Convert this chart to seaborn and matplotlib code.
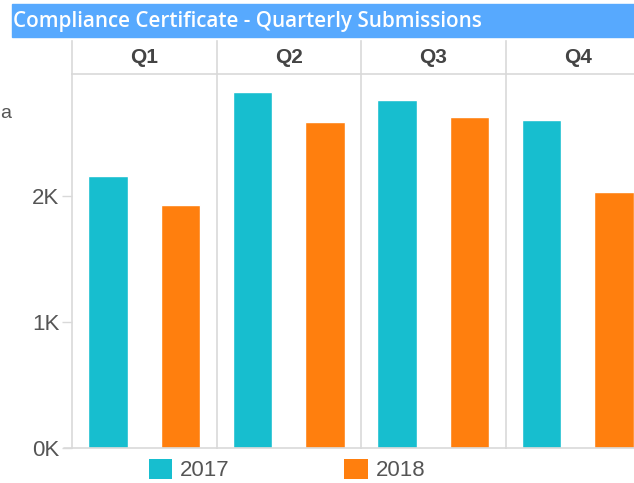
import pandas as pd
import matplotlib.pyplot as plt
import seaborn as sns
from matplotlib.patches import Rectangle, Patch

# Data
quarters = ["Q1", "Q2", "Q3", "Q4"]
years = ["2017", "2018"]
values_2017 = [2160, 2825, 2762, 2603]
values_2018 = [1929, 2587, 2627, 2032]

rows = []
for q, a, b in zip(quarters, values_2017, values_2018):
    rows.append({"quarter": q, "year": "2017", "value": a})
    rows.append({"quarter": q, "year": "2018", "value": b})
df = pd.DataFrame(rows)

colors = {"2017": "#17becf", "2018": "#ff7f0e"}
grid_col = "#d9d9d9"
text_col = "#555555"

sns.set_theme(style="white")
plt.rcParams["font.family"] = ["Liberation Sans", "DejaVu Sans"]

W, H = 634, 483
fig = plt.figure(figsize=(W / 100, H / 100), dpi=100)

def fx(px):
    return px / W

def fy(py):
    return 1 - py / H

# title bar
fig.patches.append(Rectangle((fx(12), fy(37)), fx(634) - fx(12), fy(4) - fy(37),
                             transform=fig.transFigure, color="#57a9fe", zorder=0))
fig.text(fx(13), fy(21), "Compliance Certificate - Quarterly Submissions",
         color="white", fontsize=14.9, family="Open Sans", fontweight="semibold",
         va="center", ha="left")

col_w = 144.5
left0 = 72
base_y, top_y, head_y = 448, 74, 41
ymax = (base_y - top_y) / 126 * 1000

for i, q in enumerate(quarters):
    x0 = left0 + col_w * i
    ax = fig.add_axes([fx(x0), fy(base_y), col_w / W, (base_y - top_y) / H])
    sub = df[df["quarter"] == q]
    sns.barplot(data=sub, x="year", y="value", hue="year", palette=colors,
                order=years, hue_order=years, width=0.55, legend=False,
                saturation=1, ax=ax)
    ax.set_xlim(-0.5, 1.5)
    ax.set_ylim(0, ymax)
    ax.set_xlabel("")
    ax.set_ylabel("")
    ax.set_xticks([])
    for s in ["top", "right"]:
        ax.spines[s].set_visible(False)
    ax.spines["left"].set_color(grid_col)
    ax.spines["bottom"].set_color(grid_col)
    ax.spines["left"].set_linewidth(1.2)
    ax.spines["bottom"].set_linewidth(1.2)
    if i == 0:
        ax.set_yticks([0, 1000, 2000])
        ax.set_yticklabels(["0K", "1K", "2K"])
        ax.tick_params(axis="y", length=7, width=1, color=grid_col,
                       labelsize=16, labelcolor=text_col, pad=2, left=True)
    else:
        ax.set_yticks([])

    # header cell
    hx = fig.add_axes([fx(x0), fy(top_y), col_w / W, (top_y - head_y) / H])
    hx.set_xticks([])
    hx.set_yticks([])
    for s in ["top", "right"]:
        hx.spines[s].set_visible(False)
    hx.spines["left"].set_color(grid_col)
    hx.spines["bottom"].set_color(grid_col)
    hx.spines["left"].set_linewidth(1.2)
    hx.spines["bottom"].set_linewidth(1.2)
    hx.patch.set_alpha(0)
    hx.text(0.5, 0.5, q, ha="center", va="center", fontsize=15,
            fontweight="bold", color="#444444", transform=hx.transAxes)

# baseline stub left of the axis
fig.add_artist(plt.Line2D([fx(64), fx(72)], [fy(base_y), fy(base_y)],
                          color=grid_col, lw=1.2, transform=fig.transFigure))

# label fragment at left edge
fig.text(fx(0), fy(113), "a", color=text_col, fontsize=14, ha="left", va="center")

handles = [Patch(facecolor=colors[y], edgecolor="none", label=y) for y in years]
fig.legend(handles=handles, loc="center left", bbox_to_anchor=(fx(149), fy(470)),
           ncol=2, frameon=False, fontsize=16, handlelength=1.05, handleheight=1.05,
           handletextpad=0.36, columnspacing=5.15, labelcolor=text_col,
           borderaxespad=0, borderpad=0)

fig.savefig("out.png", dpi=100)
